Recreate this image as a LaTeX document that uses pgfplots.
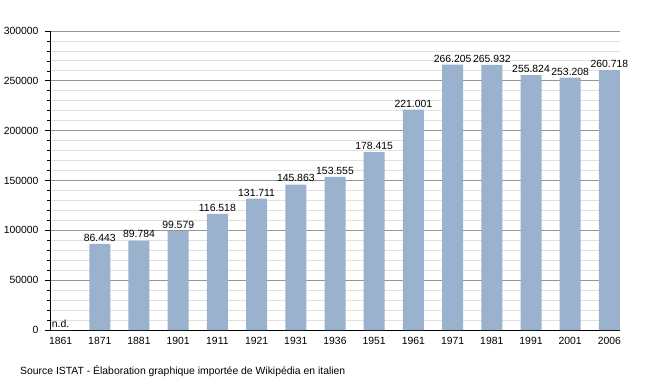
\documentclass[border=0pt]{standalone}
\usepackage{pgfplots}
\pgfplotsset{compat=1.18}
\usepackage{fontspec}
\setmainfont{Liberation Sans}
\definecolor{barblue}{RGB}{154,178,205}
\begin{document}
\begin{tikzpicture}
\useasboundingbox (-50pt,-50pt) rectangle (600pt,330pt);
\begin{axis}[
  scale only axis, width=570pt, height=299pt,
  at={(0pt,0pt)}, anchor=south west,
  xmin=-0.27, xmax=14.27, ymin=0, ymax=300000,
  ybar, bar width=21pt,
  xtick={0,...,14},
  xticklabels={1861,1871,1881,1901,1911,1921,1931,1936,1951,1961,1971,1981,1991,2001,2006},
  ytick={0,50000,...,300000}, minor y tick num=4,
  scaled y ticks=false,
  /pgf/number format/assume math mode=true,
  yticklabel style={/pgf/number format/fixed, /pgf/number format/1000 sep={}, font=\fontsize{10.4}{12}\selectfont},
  xticklabel style={font=\fontsize{10.4}{12}\selectfont, yshift=1pt},
  ymajorgrids, yminorgrids,
  major grid style={draw=black!42, line width=0.8pt},
  minor grid style={draw=black!12, line width=0.8pt},
  axis x line*=bottom, axis y line*=left,
  axis line style={black, line width=0.9pt},
  tick align=outside,
  major tick length=5pt, minor tick length=2.5pt,
  x tick style={draw=none},
  y tick style={black, line width=0.7pt},
  yticklabel style={xshift=-3pt},
  nodes near coords,
  point meta=explicit symbolic,
  every node near coord/.append style={font=\fontsize{10.4}{12}\selectfont, black, yshift=-1pt},
]
\addplot[fill=barblue, draw=none] coordinates {
  (0,0) [n.d.]
  (1,86443) [86.443]
  (2,89784) [89.784]
  (3,99579) [99.579]
  (4,116518) [116.518]
  (5,131711) [131.711]
  (6,145863) [145.863]
  (7,153555) [153.555]
  (8,178415) [178.415]
  (9,221001) [221.001]
  (10,266205) [266.205]
  (11,265932) [265.932]
  (12,255824) [255.824]
  (13,253208) [253.208]
  (14,260718) [260.718]
};
\end{axis}
\node[anchor=base west, font=\fontsize{10.4}{12}\selectfont, inner sep=0pt] at (-30pt,-44pt) {Source ISTAT - Élaboration graphique importée de Wikipédia en italien};
\end{tikzpicture}
\end{document}
